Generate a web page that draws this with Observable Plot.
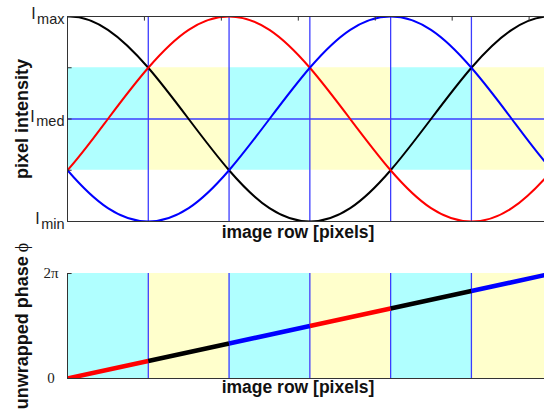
<!DOCTYPE html>
<html>
<head>
<meta charset="utf-8">
<script src="https://cdn.jsdelivr.net/npm/d3@7"></script>
<script src="https://cdn.jsdelivr.net/npm/@observablehq/plot@0.6"></script>
<style>
  body { margin: 0; background: #fff; overflow: hidden; }
  svg { display: block; }
</style>
</head>
<body>
<div id="chart"></div>
<script>
// Segment boundaries along the image row (one segment = 60° of phase)
const rowBounds = [0, 105, 210, 315, 420, 525, 630];
const innerBounds = [105, 210, 315, 420, 525];
const rowTicks = [0, 100, 200, 300, 400, 500, 600];

// Intensity samples (normalised, -1 = Imin, +1 = Imax) every half segment
const sampleRows = [-52.5, 0, 52.5, 105, 157.5, 210, 262.5, 315, 367.5, 420, 472.5, 525, 577.5, 630, 682.5];
const blackI = [0.87, 1, 0.87, 0.5, 0, -0.5, -0.87, -1, -0.87, -0.5, 0, 0.5, 0.87, 1, 0.87];
const redI   = [-0.87, -0.5, 0, 0.5, 0.87, 1, 0.87, 0.5, 0, -0.5, -0.87, -1, -0.87, -0.5, 0];
const blueI  = [0, -0.5, -0.87, -1, -0.87, -0.5, 0, 0.5, 0.87, 1, 0.87, 0.5, 0, -0.5, -0.87];

// Intensity levels
const intensityTicks = [1, 0.5, 0, -0.5, -1];
const labelLevels = [1, 0, -1];
const labelSubs = ["max", "med", "min"];
const bandLevels = [-0.5, 0.5];

// Unwrapped phase at the segment boundaries, and which signal each segment uses
const phaseAt = [0, Math.PI / 3, 2 * Math.PI / 3, Math.PI, 4 * Math.PI / 3, 5 * Math.PI / 3, 2 * Math.PI];
const segSeries = ["red", "black", "blue", "red", "black", "blue"];
const phaseTicks = [0, 2 * Math.PI];
const phaseTickLabels = ["0", "2\u03c0"];
const phaseTitle = "unwrapped phase";

// Styles
const CYAN = "#b0ffff";
const YELLOW = "#ffffcc";
const GRID = "#3c3cff";
const AXIS = "#333";
const seriesColor = { black: "#000000", red: "#ff0000", blue: "#0000ff" };
const SANS = "Liberation Sans, Arial, sans-serif";
const SERIF = "Liberation Serif, Times New Roman, serif";

const segIdx = d3.range(rowBounds.length - 1);
const curveRows = sampleRows.map((r, i) => ({ row: r, black: blackI[i], red: redI[i], blue: blueI[i] }));

const bandRect = (parity, y1, y2) => Plot.rect(segIdx.filter(i => i % 2 === parity), {
  x1: i => rowBounds[i], x2: i => rowBounds[i + 1], y1, y2,
  fill: parity ? YELLOW : CYAN, clip: true
});

// ---- Top panel: the three phase-shifted intensity profiles ----
const intensityPanel = Plot.plot({
  width: 544, height: 246,
  marginLeft: 67, marginRight: 0, marginTop: 16, marginBottom: 25,
  style: { fontFamily: SANS, background: "white", overflow: "visible" },
  x: { domain: [0, 620], axis: null },
  y: { domain: [-1, 1], axis: null },
  marks: [
    bandRect(0, bandLevels[0], bandLevels[1]),
    bandRect(1, bandLevels[0], bandLevels[1]),
    Plot.ruleY([0], { stroke: GRID, strokeWidth: 1.3 }),
    Plot.ruleX(innerBounds, { stroke: GRID, strokeWidth: 1.3 }),
    ...["black", "red", "blue"].map(s => Plot.line(curveRows, {
      x: "row", y: s, curve: "natural", stroke: seriesColor[s], strokeWidth: 2, clip: true
    })),
    Plot.ruleY([-1, 1], { stroke: AXIS, strokeWidth: 1 }),
    Plot.ruleX([0], { stroke: AXIS, strokeWidth: 1 }),
    Plot.ruleX(rowTicks, { y1: 1, y2: 0.955, stroke: AXIS }),
    Plot.ruleY(intensityTicks, { x1: 0, x2: 6, stroke: AXIS }),
    Plot.text(labelLevels, {
      frameAnchor: "left", y: d => d, text: (d, i) => labelSubs[i],
      textAnchor: "end", dx: -3, fontSize: 14.5, fill: "#222"
    }),
    Plot.text(["image row [pixels]"], {
      frameAnchor: "bottom", dx: -8, dy: 16, fontSize: 17.5, fontWeight: "bold", fill: "#111"
    }),
    Plot.text(["pixel intensity"], {
      frameAnchor: "left", textAnchor: "middle", rotate: -90, dx: -45,
      fontSize: 18, fontWeight: "bold", fill: "#111"
    })
  ]
});

// ---- Bottom panel: unwrapped phase ----
const phasePanel = Plot.plot({
  width: 544, height: 165,
  marginLeft: 67, marginRight: 0, marginTop: 27, marginBottom: 33,
  style: { fontFamily: SANS, background: "white", overflow: "visible" },
  x: { domain: [0, 620], axis: null },
  y: { domain: [0, 2 * Math.PI], axis: null },
  marks: [
    bandRect(0, phaseTicks[0], phaseTicks[1]),
    bandRect(1, phaseTicks[0], phaseTicks[1]),
    Plot.ruleX(innerBounds, { stroke: GRID, strokeWidth: 1.3 }),
    ...["red", "black", "blue"].map(s => Plot.link(segIdx.filter(i => segSeries[i] === s), {
      x1: i => rowBounds[i], y1: i => phaseAt[i],
      x2: i => rowBounds[i + 1], y2: i => phaseAt[i + 1],
      stroke: seriesColor[s], strokeWidth: 4.5, strokeLinecap: "butt", clip: true
    })),
    Plot.ruleX([0], { stroke: AXIS, strokeWidth: 1 }),
    Plot.ruleY([0], { stroke: AXIS, strokeWidth: 1 }),
    Plot.ruleY(phaseTicks, { x1: 0, x2: 6, stroke: AXIS }),
    Plot.text(phaseTicks, {
      frameAnchor: "left", y: d => d, text: (d, i) => phaseTickLabels[i],
      textAnchor: "middle", dx: -16.5, fontFamily: SERIF, fontSize: 15, fill: "#222"
    }),
    Plot.text(["image row [pixels]"], {
      frameAnchor: "bottom", dx: -8, dy: 14, fontSize: 17.5, fontWeight: "bold", fill: "#111"
    }),
    Plot.text([phaseTitle], {
      frameAnchor: "left", textAnchor: "middle", rotate: -90, dx: -45, dy: 0,
      fontSize: 18, fontWeight: "bold", fill: "#111"
    })
  ]
});

// "I" with a lowered subscript for the intensity labels
d3.select(intensityPanel).selectAll("text")
  .filter(function () { return labelSubs.includes(this.textContent); })
  .each(function () {
    const sub = this.textContent;
    for (const a of ["y", "dy"]) {
      const v = this.getAttribute(a);
      if (v && v.endsWith("em")) this.removeAttribute(a);
    }
    const t = d3.select(this).text(null);
    t.append("tspan").attr("font-size", 16).attr("dy", 2.5).text("I");
    t.append("tspan").attr("font-size", 14.5).attr("dx", 1.5).attr("dy", 4.5).text(sub);
  });

// Serif phi at the end of the phase title
d3.select(phasePanel).selectAll("text")
  .filter(function () { return this.textContent === phaseTitle; })
  .each(function () {
    d3.select(this).append("tspan")
      .attr("font-family", SERIF).attr("font-weight", "normal").attr("font-size", 18)
      .attr("dx", 4)
      .text("\u03d5");
  });

document.getElementById("chart").append(intensityPanel, phasePanel);
</script>
</body>
</html>
